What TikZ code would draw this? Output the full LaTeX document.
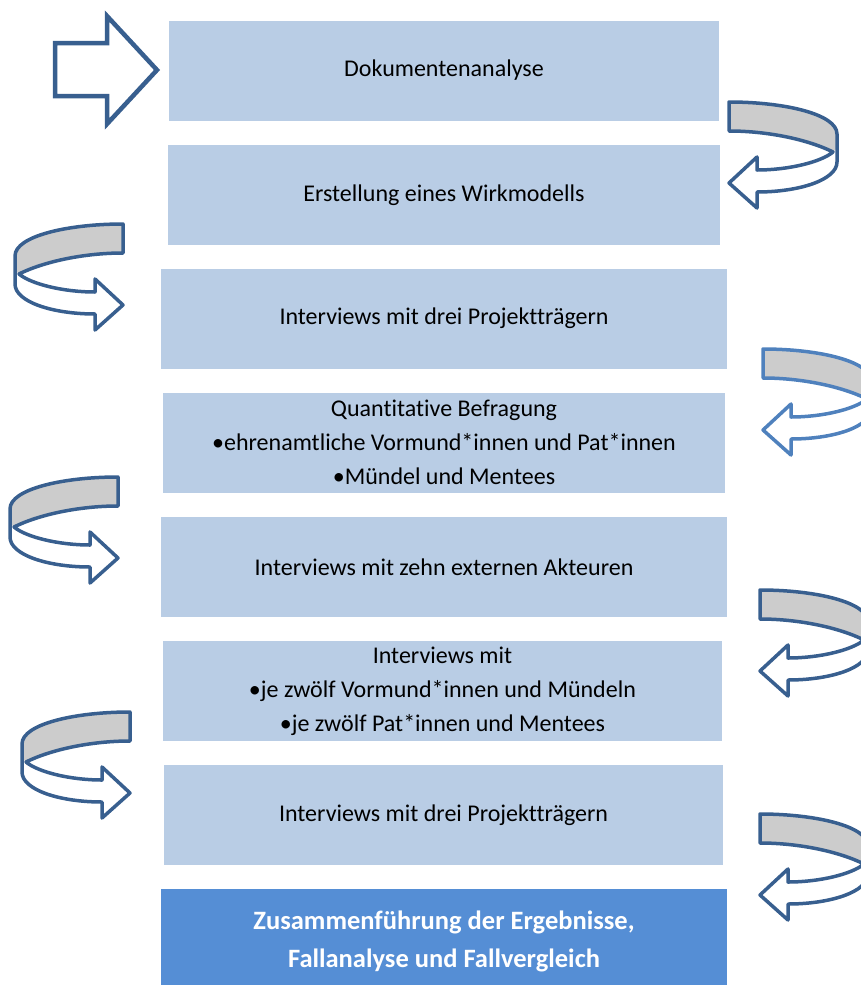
\documentclass[tikz,border=0pt]{standalone}
\usepackage{fontspec}
\setmainfont{Carlito}[Ligatures=NoCommon]
\usepackage{xcolor}
\usepackage{tikz}
\usetikzlibrary{positioning}

\definecolor{boxblue}{HTML}{B9CDE5}
\definecolor{darkbox}{HTML}{558ED5}
\definecolor{lineblue}{HTML}{385F8F}
\definecolor{lightline}{HTML}{4F81BD}
\definecolor{bandgray}{HTML}{CCCCCC}

\begin{document}
\begin{tikzpicture}[
      x=1pt, y=-1pt,
      stepbox/.style={rectangle, fill=boxblue, minimum height=100pt, inner sep=0pt,
        align=center, font=\fontsize{24}{34}\selectfont},
      lastbox/.style={stepbox, fill=darkbox, text=white,
        font=\fontsize{26.5}{38}\selectfont\bfseries},
      turnarrow/.pic={
        \fill[white] (0,0) .. controls (55,0) and (108,12) .. (108,32) -- (108,60)
          .. controls (108,78) and (70,90) .. (28,90) -- (28,106) -- (0,81) -- (28,55) -- (28,68)
          .. controls (60,68) and (92,60) .. (104,50) .. controls (80,38) and (40,29) .. (0,29) -- cycle;
        \fill[bandgray] (0,0) .. controls (55,0) and (108,12) .. (108,32) -- (108,46) -- (104,50)
          .. controls (80,38) and (40,29) .. (0,29) -- cycle;
        \draw[draw=#1, line width=3.5pt, line join=round]
          (0,0) .. controls (55,0) and (108,12) .. (108,32) -- (108,60)
          .. controls (108,78) and (70,90) .. (28,90) -- (28,106) -- (0,81) -- (28,55) -- (28,68)
          .. controls (60,68) and (92,60) .. (104,50) .. controls (80,38) and (40,29) .. (0,29) -- cycle;
      }
    ]
      \useasboundingbox (0,0) rectangle (861,985);

      % steps
      \node[stepbox, minimum width=550pt] (doku) at (444,70.5) {Dokumentenanalyse};
      \node[stepbox, minimum width=552pt] (wirk) at (444,195) {Erstellung eines Wirkmodells};
      \node[stepbox, minimum width=566pt] (traeger1) at (444,318.5) {Interviews mit drei Projektträgern};
      \node[stepbox, minimum width=562pt] (befragung) at (444,442.5)
        {Quantitative Befragung\\•ehrenamtliche Vormund*innen und Pat*innen\\•Mündel und Mentees};
      \node[stepbox, minimum width=566pt] (akteure) at (444,567) {Interviews mit zehn externen Akteuren};
      \node[stepbox, minimum width=559pt] (interviews) at (442.5,691)
        {Interviews mit\\•je zwölf Vormund*innen und Mündeln\\•je zwölf Pat*innen und Mentees};
      \node[stepbox, minimum width=559pt] (traeger2) at (443.5,815) {Interviews mit drei Projektträgern};
      \node[lastbox, minimum width=566pt, minimum height=104pt] (ergebnis) at (444,941)
        {Zusammenführung der Ergebnisse,\\Fallanalyse und Fallvergleich};

      % start arrow
      \draw[draw=lineblue, fill=white, line width=4.5pt]
        (55,43) -- (107,43) -- (107,16) -- (157,70) -- (107,124) -- (107,96) -- (55,96) -- cycle;

      % turning arrows
      \pic at (729,102) {turnarrow=lineblue};
      \pic[xscale=-1] at (123,224) {turnarrow=lineblue};
      \pic at (763,349) {turnarrow=lightline};
      \pic[xscale=-1] at (118,477) {turnarrow=lineblue};
      \pic at (760,590) {turnarrow=lineblue};
      \pic[xscale=-1] at (130,712) {turnarrow=lineblue};
      \pic at (760,814) {turnarrow=lineblue};
    \end{tikzpicture}
\end{document}
